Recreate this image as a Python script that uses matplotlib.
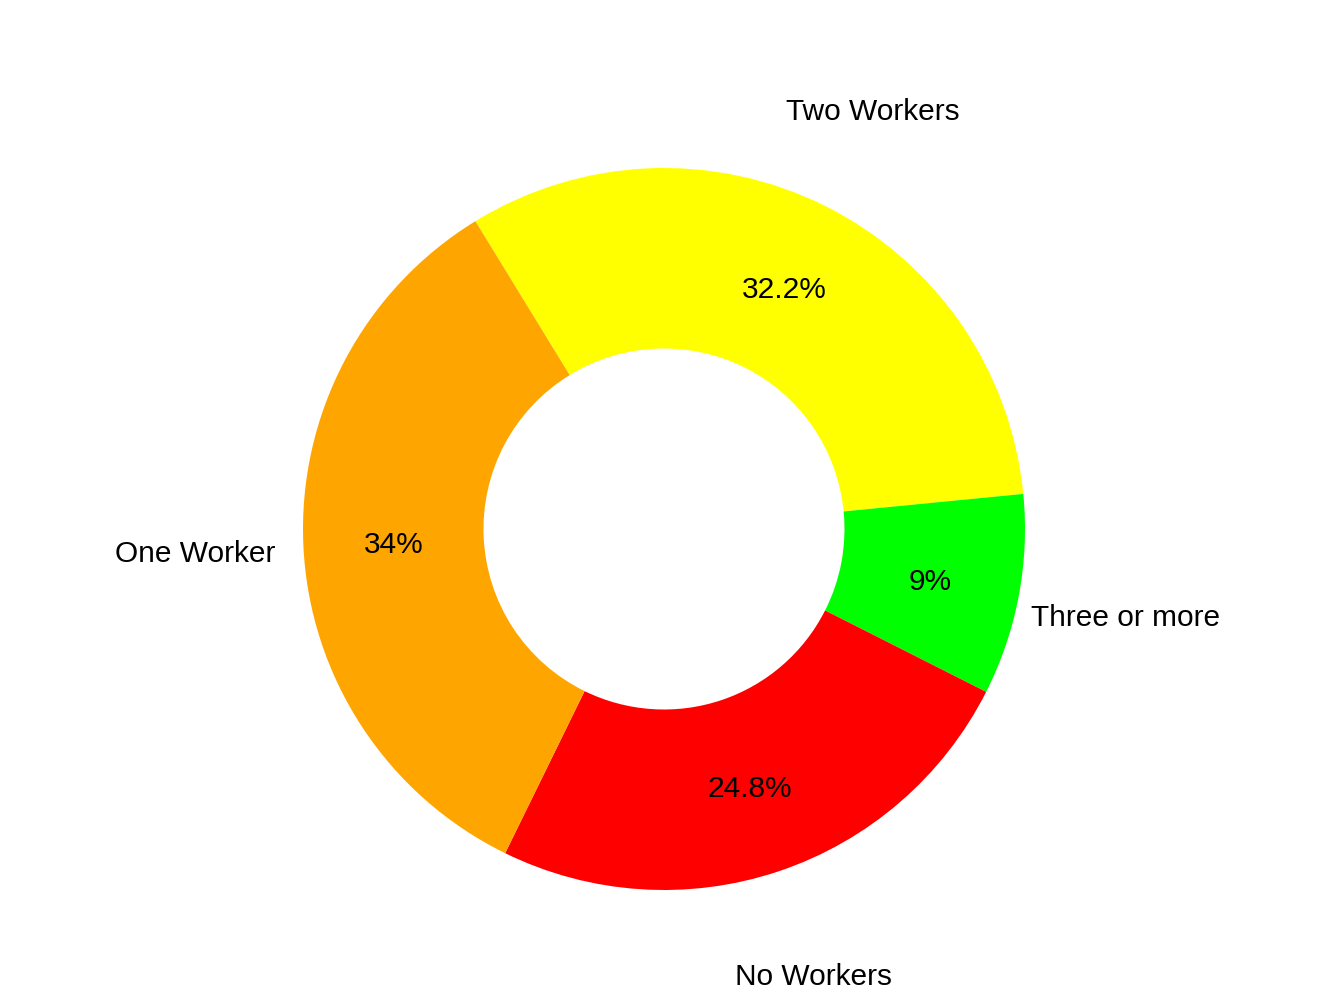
import matplotlib
matplotlib.use("Agg")
import matplotlib.pyplot as plt
import numpy as np

categories = ["Two Workers", "Three or more", "No Workers", "One Worker"]
percents = [32.2, 9.0, 24.8, 34.0]
pct_labels = ["32.2%", "9%", "24.8%", "34%"]
colors = ["#FFFF00", "#00FF00", "#FF0000", "#FFA500"]

plt.rcParams['font.family'] = ['Liberation Sans', 'DejaVu Sans']

W, H = 1344, 1008
cx, cy = 664, 529
R = 361.0

fig = plt.figure(figsize=(W / 100, H / 100), dpi=100)
ax = fig.add_axes([0, 0, 1, 1])

start = 121.5
wedges, _ = ax.pie(percents, colors=colors, startangle=start, counterclock=False,
                   radius=1.0, wedgeprops=dict(width=0.5, linewidth=0),
                   center=(0, 0), frame=False)
ax.set_xlim(-cx / R, (W - cx) / R)
ax.set_ylim(-(H - cy) / R, cy / R)
ax.set_aspect('equal')
ax.axis('off')

dy = -3.0 / R
total = sum(percents)
cum = 0.0
for cat, p, lab in zip(categories, percents, pct_labels):
    mid = start - (cum + p / 2) / total * 360
    cum += p
    th = np.deg2rad(mid)
    ax.text(0.75 * np.cos(th), 0.75 * np.sin(th) + dy, lab, ha='center', va='center',
            fontsize=21.5, color='black')
    ax.text(1.3 * np.cos(th), 1.3 * np.sin(th) + dy, cat, ha='center', va='center',
            fontsize=21.5, color='black')

fig.savefig("out.png", dpi=100, facecolor='white')
